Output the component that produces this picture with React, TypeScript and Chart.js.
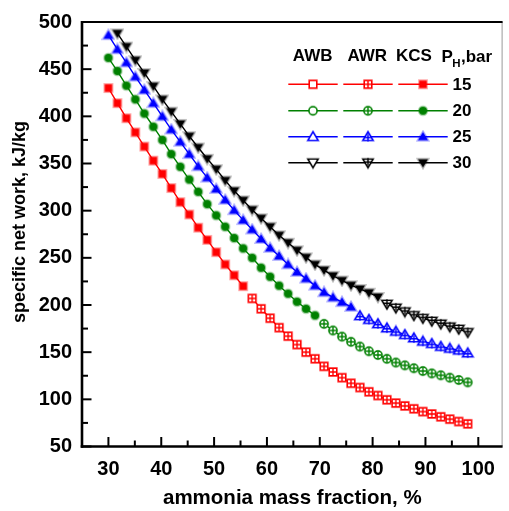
import React, { useEffect, useRef } from "react";
import { Chart, registerables } from "chart.js";

Chart.register(...registerables);

// ammonia mass fraction, %
const fractions = [
  30, 31.7, 33.4, 35.1, 36.8, 38.5, 40.2, 41.9, 43.6, 45.3, 47, 48.7, 50.4, 52.1,
  53.8, 55.5, 57.2, 58.9, 60.6, 62.3, 64, 65.7, 67.4, 69.1, 70.8, 72.5, 74.2, 75.9,
  77.6, 79.3, 81, 82.7, 84.4, 86.1, 87.8, 89.5, 91.2, 92.9, 94.6, 96.3, 98,
];

// P_H = 15 bar
const kcs15 = [430, 414, 398, 383, 368, 353, 339, 324, 309, 296, 282, 269, 256, 243, 231.5, 220];
const awr15 = [207, 196, 186, 176, 167, 158, 150, 143, 135, 129, 123, 117, 112.5, 108, 104, 99.5, 96, 93, 90, 87, 84.5, 81.5, 79, 76.5, 74];
// P_H = 20 bar
const kcs20 = [462, 448, 432.5, 418, 403, 389, 375, 360, 346.5, 333, 320, 307, 295, 283, 271, 260, 250, 239.5, 230, 220.5, 212, 203.5, 196, 189];
const awr20 = [180, 173, 166.5, 161, 156, 151, 147, 143, 139, 136, 133, 130, 127.5, 125.5, 123, 120.5, 118];
// P_H = 25 bar
const kcs25 = [486, 471, 457, 442, 428, 414, 400, 386, 373, 360, 347, 335, 323, 311.5, 300.5, 290, 280, 270, 260.5, 252, 243, 235, 228, 220.5, 213.5, 208, 203, 198];
const awr25 = [188.5, 184.5, 180, 175.5, 172, 168.5, 165, 161.5, 159, 156, 154, 152, 149];
// P_H = 30 bar (starts at the second fraction)
const kcs30 = [488, 474, 459.5, 446, 432, 418, 405, 392, 379, 367, 355, 344, 332, 321, 311, 301, 292, 283, 274, 266, 258, 250.5, 243, 237, 231, 226, 221, 217, 213, 208.5];
const awr30 = [201, 197, 193, 189, 186, 183, 180, 177, 174.5, 171];

const pressures = ["15", "20", "25", "30"];
const legendHeaders = ["AWB", "AWR", "KCS"];
const xTicks = [30, 40, 50, 60, 70, 80, 90, 100];
const xMinor = [35, 45, 55, 65, 75, 85, 95];
const yTicks = [50, 100, 150, 200, 250, 300, 350, 400, 450, 500];
const yMinor = [75, 125, 175, 225, 275, 325, 375, 425, 475];
const xTitle = "ammonia mass fraction, %";
const yTitle = "specific net work, kJ/kg";

const FAMILY = '"Liberation Sans", Arial, sans-serif';
const COLORS = ["#ff0000", "#008000", "#0000ff", "#000000"];
const HALOS = ["rgba(255,0,0,0.35)", "rgba(0,128,0,0.35)", "rgba(0,0,255,0.35)", "rgba(0,0,0,0.3)"];
const SHAPES = ["square", "circle", "up", "down"];

function makeMarker(shape: string, color: string, halo: string, kind: string): HTMLCanvasElement {
  const S = 14;
  const c = document.createElement("canvas");
  c.width = S;
  c.height = S;
  const g = c.getContext("2d")!;
  const m = S / 2;
  const path = () => {
    g.beginPath();
    if (shape === "square") g.rect(m - 3.7, m - 3.7, 7.4, 7.4);
    else if (shape === "circle") g.arc(m, m, 4, 0, Math.PI * 2);
    else if (shape === "up") {
      g.moveTo(m, m - 4.8);
      g.lineTo(m + 5, m + 3.6);
      g.lineTo(m - 5, m + 3.6);
      g.closePath();
    } else {
      g.moveTo(m, m + 4.8);
      g.lineTo(m + 5, m - 3.6);
      g.lineTo(m - 5, m - 3.6);
      g.closePath();
    }
  };
  path();
  g.strokeStyle = halo;
  g.lineWidth = 2.4;
  g.stroke();
  if (kind === "filled") {
    path();
    g.fillStyle = color;
    g.fill();
  } else {
    path();
    g.fillStyle = "#ffffff";
    g.fill();
    g.strokeStyle = color;
    g.lineWidth = 1.4;
    g.stroke();
    if (kind === "cross") {
      g.beginPath();
      const t = shape === "up" ? 1 : shape === "down" ? -1 : 0;
      g.moveTo(m, m - 3.7 + t);
      g.lineTo(m, m + 3.7 + t);
      g.moveTo(m - 3.7, m + t * 0.8);
      g.lineTo(m + 3.7, m + t * 0.8);
      g.stroke();
    }
  }
  return c;
}

function seg(start: number, vals: number[]) {
  return vals.map((v, i) => ({ x: fractions[start + i], y: v }));
}

export default function App() {
  const ref = useRef<HTMLCanvasElement | null>(null);

  useEffect(() => {
    if (!ref.current) return;
    const markers = SHAPES.map((s, k) => ({
      open: makeMarker(s, COLORS[k], HALOS[k], "open"),
      cross: makeMarker(s, COLORS[k], HALOS[k], "cross"),
      filled: makeMarker(s, COLORS[k], HALOS[k], "filled"),
    }));

    const segments = [
      { k: 0, kind: "filled", data: seg(0, kcs15) },
      { k: 0, kind: "cross", data: seg(16, awr15) },
      { k: 1, kind: "filled", data: seg(0, kcs20) },
      { k: 1, kind: "cross", data: seg(24, awr20) },
      { k: 2, kind: "filled", data: seg(0, kcs25) },
      { k: 2, kind: "cross", data: seg(28, awr25) },
      { k: 3, kind: "filled", data: seg(1, kcs30) },
      { k: 3, kind: "cross", data: seg(31, awr30) },
    ];

    const datasets = segments.map((s) => ({
      label: pressures[s.k] + " " + s.kind,
      data: s.data,
      borderColor: COLORS[s.k],
      backgroundColor: COLORS[s.k],
      borderWidth: 1.4,
      pointStyle: (markers[s.k] as any)[s.kind],
      pointRadius: 5,
      fill: false,
      tension: 0,
    }));

    const framePlugin = {
      id: "frame",
      afterDraw(chart: any) {
        const ctx = chart.ctx as CanvasRenderingContext2D;
        const { left, right, top, bottom } = chart.chartArea;
        const xs = chart.scales.x;
        const ys = chart.scales.y;
        const line = (x1: number, y1: number, x2: number, y2: number) => {
          ctx.beginPath();
          ctx.moveTo(x1, y1);
          ctx.lineTo(x2, y2);
          ctx.stroke();
        };
        ctx.save();
        // frame
        ctx.strokeStyle = "#999";
        ctx.lineWidth = 1;
        line(right - 0.5, top, right - 0.5, bottom);
        ctx.strokeStyle = "#000";
        ctx.lineWidth = 2;
        line(left, top, right, top);
        ctx.lineWidth = 2.6;
        line(left, top - 1, left, bottom + 1.3);
        line(left - 1.3, bottom, right, bottom);
        // ticks
        ctx.lineWidth = 2;
        yTicks.forEach((v) => {
          const p = ys.getPixelForValue(v);
          line(left, p, left + 9.5, p);
        });
        yMinor.forEach((v) => {
          const p = ys.getPixelForValue(v);
          line(left, p, left + 6, p);
        });
        xTicks.forEach((v) => {
          const p = xs.getPixelForValue(v);
          line(p, bottom, p, bottom - 9.5);
        });
        xMinor.forEach((v) => {
          const p = xs.getPixelForValue(v);
          line(p, bottom, p, bottom - 6);
        });

        // y axis title
        ctx.save();
        ctx.fillStyle = "#000";
        ctx.font = `bold 18px ${FAMILY}`;
        ctx.textAlign = "center";
        ctx.textBaseline = "middle";
        ctx.translate(20.5, 222);
        ctx.rotate(-Math.PI / 2);
        ctx.fillText(yTitle, 0, 0);
        ctx.restore();

        // legend table
        ctx.fillStyle = "#000";
        ctx.font = `bold 17px ${FAMILY}`;
        ctx.textBaseline = "middle";
        ctx.textAlign = "center";
        const colX = [312.7, 367.3, 414];
        legendHeaders.forEach((h, i) => ctx.fillText(h, colX[i], 56));
        ctx.textAlign = "left";
        ctx.textBaseline = "alphabetic";
        ctx.fillText("P", 441.5, 62);
        ctx.font = `bold 11.5px ${FAMILY}`;
        ctx.fillText("H", 452.3, 67);
        ctx.font = `bold 17px ${FAMILY}`;
        ctx.fillText(",bar", 461, 62);

        const rowY = [84.3, 110.7, 136.7, 162.7];
        const segX = [
          [288.3, 337.7, 313],
          [343.3, 392.7, 368],
          [398.3, 447.7, 423],
        ];
        const kinds = ["open", "cross", "filled"];
        pressures.forEach((p, k) => {
          const y = rowY[k];
          segX.forEach((sx, j) => {
            ctx.strokeStyle = COLORS[k];
            ctx.lineWidth = 1.4;
            line(sx[0], y, sx[1], y);
            const img = (markers[k] as any)[kinds[j]] as HTMLCanvasElement;
            ctx.drawImage(img, sx[2] - img.width / 2, y - img.height / 2);
          });
          ctx.fillStyle = "#000";
          ctx.font = `bold 17px ${FAMILY}`;
          ctx.textBaseline = "middle";
          ctx.fillText(p, 452.5, y + 1);
        });
        ctx.restore();
      },
    };

    const tickFont = { family: FAMILY, size: 20, weight: "bold" as const };
    const chart = new Chart(ref.current, {
      type: "line",
      data: { datasets: datasets as any },
      options: {
        animation: false,
        responsive: false,
        devicePixelRatio: 1,
        layout: { padding: { top: 19, right: 1, left: 0, bottom: 0 } },
        plugins: { legend: { display: false }, tooltip: { enabled: false } },
        scales: {
          x: {
            type: "linear",
            min: 25,
            max: 104.6,
            grid: { display: false, drawTicks: false },
            border: { display: false },
            afterBuildTicks: (s: any) => {
              s.ticks = xTicks.map((v) => ({ value: v }));
            },
            afterFit: (s: any) => {
              s.height = 64.5;
            },
            ticks: { font: tickFont, color: "#000", padding: 11, autoSkip: false, maxRotation: 0 },
            title: {
              display: true,
              text: xTitle,
              color: "#000",
              font: { family: FAMILY, size: 20.5, weight: "bold" },
              padding: { top: 0, bottom: 0 },
            },
          },
          y: {
            type: "linear",
            min: 50,
            max: 500,
            grid: { display: false, drawTicks: false },
            border: { display: false },
            afterBuildTicks: (s: any) => {
              s.ticks = yTicks.map((v) => ({ value: v }));
            },
            afterFit: (s: any) => {
              s.width = 82;
            },
            ticks: { font: tickFont, color: "#000", padding: 10, autoSkip: false },
            title: { display: false },
          },
        },
      },
      plugins: [framePlugin],
    });
    return () => chart.destroy();
  }, []);

  return (
    <div style={{ position: "fixed", left: 0, top: 0, width: 509, height: 511, background: "#fff" }}>
      <canvas ref={ref} width={509} height={511} style={{ display: "block" }} />
    </div>
  );
}
